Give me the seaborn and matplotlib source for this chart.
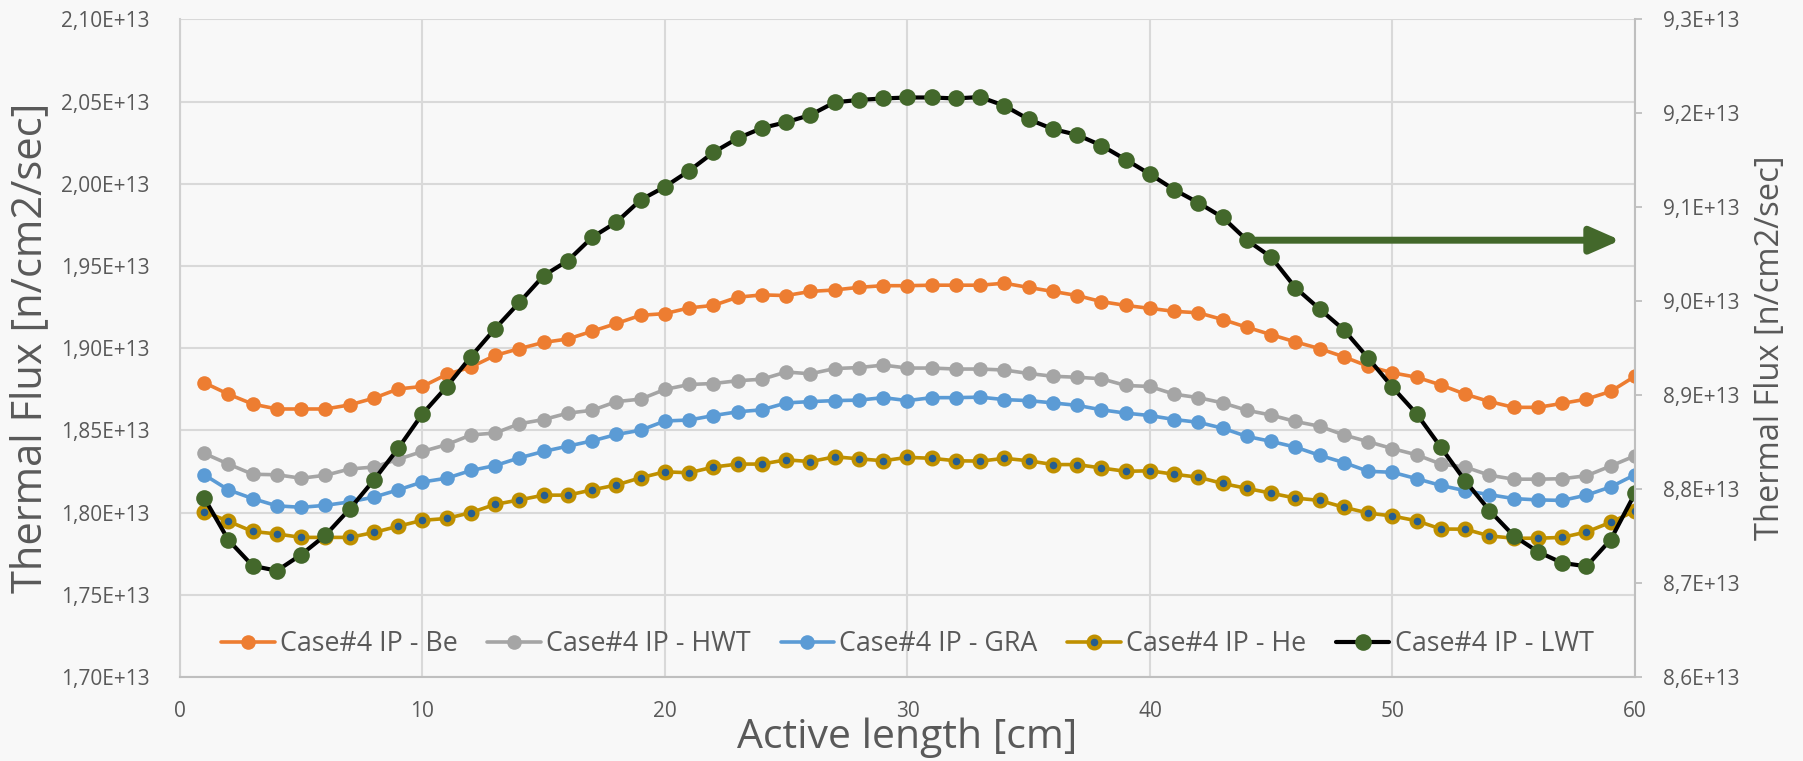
import numpy as np
import pandas as pd
import matplotlib
matplotlib.use('Agg')
import matplotlib.pyplot as plt
from matplotlib.ticker import FuncFormatter, MultipleLocator
import seaborn as sns

# Thermal flux along active length, values in 1e13 n/cm2/sec
position = list(range(1, 61))

be = [1.879, 1.872, 1.866, 1.863, 1.863, 1.863, 1.8655, 1.8696, 1.8752, 1.8767,
      1.884, 1.8885, 1.8956, 1.8997, 1.9035, 1.9056, 1.9103, 1.915, 1.920, 1.921,
      1.9245, 1.926, 1.931, 1.9324, 1.932, 1.9345, 1.9354, 1.937, 1.938, 1.938,
      1.9383, 1.9383, 1.9383, 1.9395, 1.9369, 1.9345, 1.932, 1.9283, 1.926, 1.9242,
      1.9224, 1.9215, 1.9174, 1.9127, 1.9082, 1.9038, 1.8997, 1.8947, 1.889, 1.885,
      1.8823, 1.8776, 1.872, 1.8675, 1.864, 1.864, 1.8664, 1.869, 1.8737, 1.8829]

hwt = [1.836, 1.8295, 1.8233, 1.823, 1.8209, 1.8227, 1.8265, 1.8277, 1.8324, 1.8372,
       1.8413, 1.8472, 1.8484, 1.854, 1.8566, 1.8605, 1.8622, 1.8675, 1.869, 1.8749,
       1.8779, 1.8785, 1.8802, 1.8811, 1.8855, 1.8844, 1.8876, 1.8882, 1.8897, 1.8879,
       1.8879, 1.8873, 1.8873, 1.8867, 1.8846, 1.8829, 1.8823, 1.8814, 1.8773, 1.8767,
       1.872, 1.8699, 1.8667, 1.8622, 1.8593, 1.8554, 1.8525, 1.8472, 1.8431, 1.8389,
       1.8351, 1.8295, 1.8277, 1.8227, 1.8203, 1.8203, 1.8206, 1.8224, 1.8283, 1.8345]

gra = [1.823, 1.8138, 1.8085, 1.8041, 1.8032, 1.8044, 1.8065, 1.8094, 1.8138, 1.8186,
       1.8209, 1.8256, 1.8286, 1.8333, 1.8372, 1.8404, 1.8436, 1.8475, 1.8501, 1.8557,
       1.8563, 1.859, 1.8613, 1.8625, 1.8667, 1.8675, 1.8681, 1.8684, 1.8699, 1.8681,
       1.8699, 1.8699, 1.8702, 1.8687, 1.8681, 1.8667, 1.8652, 1.8625, 1.8605, 1.859,
       1.8566, 1.8549, 1.8513, 1.8463, 1.8433, 1.8398, 1.8348, 1.8304, 1.8251, 1.8245,
       1.8206, 1.8165, 1.8133, 1.8109, 1.8085, 1.8077, 1.8074, 1.8106, 1.8156, 1.823]

he = [1.8006, 1.7947, 1.7885, 1.787, 1.7849, 1.7849, 1.7849, 1.7879, 1.7917, 1.7953,
      1.7964, 1.800, 1.805, 1.8077, 1.8106, 1.8106, 1.8138, 1.8168, 1.8212, 1.8248,
      1.8242, 1.8277, 1.8295, 1.8295, 1.8321, 1.831, 1.8339, 1.8327, 1.8315, 1.8336,
      1.833, 1.8315, 1.8313, 1.833, 1.8315, 1.8292, 1.8292, 1.8271, 1.8251, 1.8254,
      1.8233, 1.8215, 1.8177, 1.8147, 1.8118, 1.8088, 1.8074, 1.8032, 1.7997, 1.7979,
      1.795, 1.79, 1.7899, 1.7858, 1.7844, 1.7844, 1.7849, 1.7882, 1.7941, 1.8009]

# LWT goes on the secondary axis
lwt = [8.7906, 8.7457, 8.7183, 8.7131, 8.7302, 8.7509, 8.7788, 8.8097, 8.8433, 8.880,
       8.9089, 8.941, 8.9709, 8.9988, 9.0272, 9.0432, 9.068, 9.0841, 9.1078, 9.1218,
       9.1388, 9.1584, 9.1734, 9.1843, 9.1905, 9.1982, 9.2117, 9.2142, 9.2158, 9.2168,
       9.2168, 9.2158, 9.2173, 9.208, 9.1936, 9.1832, 9.177, 9.1657, 9.1507, 9.1352,
       9.1187, 9.1047, 9.0892, 9.0649, 9.0469, 9.0143, 8.9916, 8.9694, 8.9394, 8.9084,
       8.880, 8.8444, 8.8087, 8.7772, 8.7503, 8.7333, 8.7214, 8.7178, 8.7462, 8.7953]

labels = ['Case#4 IP - Be', 'Case#4 IP - HWT', 'Case#4 IP - GRA',
          'Case#4 IP - He', 'Case#4 IP - LWT']

df = pd.DataFrame({'x': position,
                   'Be': np.array(be) * 1e13,
                   'HWT': np.array(hwt) * 1e13,
                   'GRA': np.array(gra) * 1e13,
                   'He': np.array(he) * 1e13,
                   'LWT': np.array(lwt) * 1e13})

sns.set_style('white')
plt.rcParams['font.family'] = ['Open Sans', 'DejaVu Sans']

bg = '#f8f8f8'
txt = '#595959'
grid_c = '#d9d9d9'
green = '#43682b'

fig = plt.figure(figsize=(18.03, 7.61), dpi=100, facecolor=bg)
ax = fig.add_subplot(111)
ax.set_facecolor(bg)
fig.subplots_adjust(left=0.0998, right=0.9068, bottom=0.1104, top=0.9746)

sns.lineplot(data=df, x='x', y='Be', ax=ax, color='#ed7d31', marker='o',
             markersize=10.5, markeredgewidth=0, linewidth=2.6, label=labels[0])
sns.lineplot(data=df, x='x', y='HWT', ax=ax, color='#a5a5a5', marker='o',
             markersize=10.5, markeredgewidth=0, linewidth=2.6, label=labels[1])
sns.lineplot(data=df, x='x', y='GRA', ax=ax, color='#5b9bd5', marker='o',
             markersize=10.5, markeredgewidth=0, linewidth=2.6, label=labels[2])
sns.lineplot(data=df, x='x', y='He', ax=ax, color='#bf9000', marker='o',
             markersize=8.5, markerfacecolor='#255e91', markeredgecolor='#bf9000',
             markeredgewidth=3, linewidth=2.6, label=labels[3])

ax2 = ax.twinx()
sns.lineplot(data=df, x='x', y='LWT', ax=ax2, color='black', marker='o',
             markersize=12, markerfacecolor=green, markeredgecolor=green,
             markeredgewidth=0, linewidth=3, label=labels[4])

for a in (ax, ax2):
    if a.get_legend() is not None:
        a.get_legend().remove()

ax.set_xlim(0, 60)
ax.set_ylim(1.70e13, 2.10e13)
ax2.set_ylim(8.6e13, 9.3e13)
ax.xaxis.set_major_locator(MultipleLocator(10))
ax.yaxis.set_major_locator(MultipleLocator(0.05e13))
ax2.yaxis.set_major_locator(MultipleLocator(0.1e13))

ax.yaxis.set_major_formatter(FuncFormatter(
    lambda v, p: f"{v / 1e13:.2f}".replace('.', ',') + 'E+13'))
ax2.yaxis.set_major_formatter(FuncFormatter(
    lambda v, p: f"{v / 1e13:.1f}".replace('.', ',') + 'E+13'))

ax.grid(True, color=grid_c, linewidth=1.5)
ax.set_axisbelow(True)

for s in ['top', 'right']:
    ax.spines[s].set_visible(False)
ax.spines['left'].set_color('#d0d0d0')
ax.spines['bottom'].set_color('#bfbfbf')
ax.spines['left'].set_linewidth(1.5)
ax.spines['bottom'].set_linewidth(1.5)
for s in ['top', 'left', 'bottom']:
    ax2.spines[s].set_visible(False)
ax2.spines['right'].set_color('#bfbfbf')
ax2.spines['right'].set_linewidth(1.5)

ax.tick_params(axis='both', length=0, labelsize=15, labelcolor=txt)
ax.tick_params(axis='y', pad=22)
ax.tick_params(axis='x', pad=17)
ax2.tick_params(axis='y', length=5, width=1.3, color='#bfbfbf', direction='out',
                labelsize=15, labelcolor=txt, pad=15)

ax.set_xlabel('Active length [cm]', fontsize=29.5, color=txt)
ax.set_ylabel('Thermal Flux [n/cm2/sec]', fontsize=30, color=txt)
ax2.set_ylabel('Thermal Flux [n/cm2/sec]', fontsize=23.5, color=txt)
ax.xaxis.set_label_coords(0.5, -0.093)
ax.yaxis.set_label_coords(-0.103, 0.5)
ax2.yaxis.set_label_coords(1.093, 0.5)
ax.xaxis.label.set_va('center')
ax.yaxis.label.set_va('center')
ax2.yaxis.label.set_va('center')

# arrow pointing the LWT curve to its axis
arrow_y = df['LWT'].iloc[43]
ax2.annotate('', xy=(59.4, arrow_y), xytext=(44, arrow_y),
             arrowprops=dict(arrowstyle='-|>,head_length=0.5,head_width=0.22',
                             color=green, lw=5, mutation_scale=36,
                             shrinkA=0, shrinkB=0))

h1, l1 = ax.get_legend_handles_labels()
h2, l2 = ax2.get_legend_handles_labels()
ax2.legend(h1 + h2, l1 + l2, loc='lower center', bbox_to_anchor=(0.5, 0.0),
           ncol=5, frameon=False, fontsize=19.3, labelcolor=txt,
           handlelength=2.0, handletextpad=0.2, columnspacing=1.1,
           borderaxespad=0.3)

fig.savefig('out.png', dpi=100, facecolor=bg)
